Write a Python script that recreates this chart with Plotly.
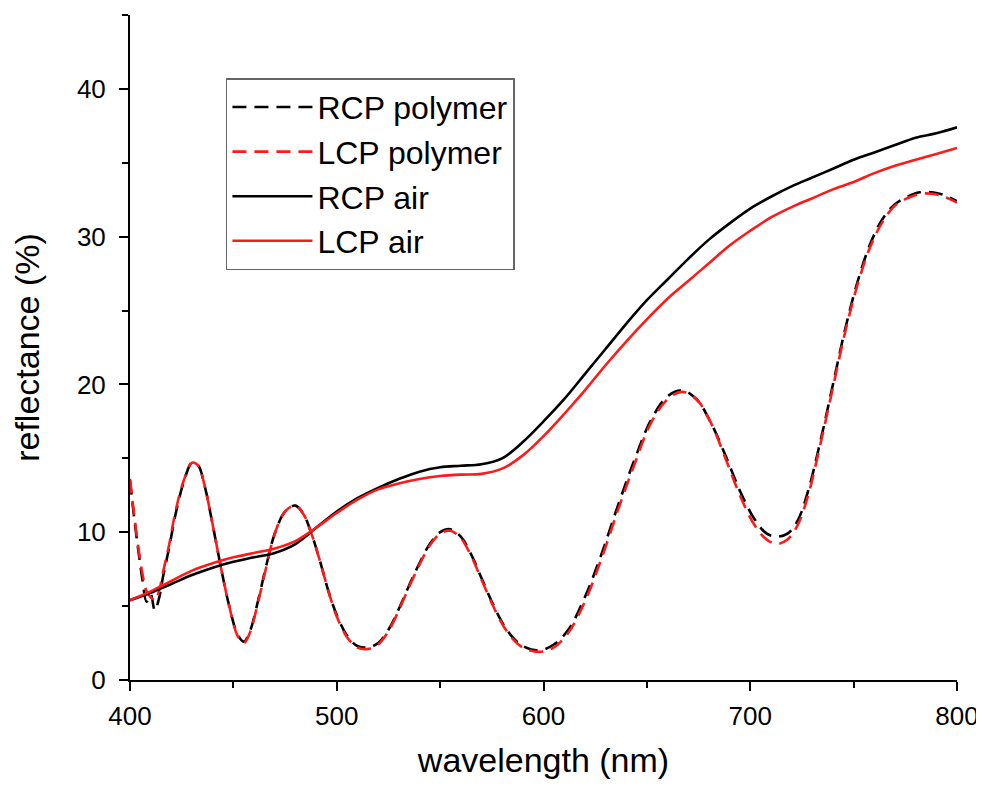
import plotly.graph_objects as go

# polymer (dashed) curves
wl_poly = [400, 402, 404, 406, 408, 410, 412, 414, 416, 419, 422, 426, 430, 433, 436, 440, 444, 448, 452, 455,
           458, 462, 466, 470, 475, 480, 484, 488, 492, 496, 500, 505, 510, 515, 520, 525, 530, 535, 540, 545,
           550, 555, 560, 565, 570, 575, 580, 585, 590, 598, 605, 612, 620, 628, 636, 644, 652, 660, 667, 674,
           681, 688, 695, 702, 708, 713, 718, 723, 728, 734, 740, 746, 752, 758, 764, 770, 776, 782, 788, 794, 800]
rcp_poly = [13.5, 11.0, 8.8, 6.8, 5.3, 5.8, 4.7, 5.5, 7.0, 9.0, 11.2, 13.4, 14.7, 14.5, 13.2, 10.5, 7.6, 5.0, 3.1, 2.6,
            3.3, 5.4, 7.8, 9.9, 11.4, 11.8, 11.2, 9.8, 8.0, 6.0, 4.4, 3.0, 2.3, 2.2, 2.5, 3.4, 4.8, 6.4, 7.9, 9.2,
            10.0, 10.2, 9.7, 8.5, 6.9, 5.3, 3.9, 2.9, 2.3, 2.0, 2.4, 3.4, 5.6, 8.5, 11.8, 14.9, 17.6, 19.2, 19.6, 19.0,
            17.4, 15.2, 12.8, 10.9, 9.9, 9.7, 9.9, 10.8, 12.8, 16.2, 20.0, 23.8, 27.0, 29.5, 31.2, 32.2, 32.7, 33.0, 33.0, 32.8, 32.4]
lcp_poly = [13.6, 11.2, 9.0, 7.2, 6.0, 5.6, 5.4, 6.0, 7.3, 9.2, 11.4, 13.5, 14.7, 14.5, 13.2, 10.5, 7.6, 5.0, 3.0, 2.5,
            3.2, 5.3, 7.7, 9.9, 11.4, 11.8, 11.2, 9.8, 8.0, 6.0, 4.3, 2.9, 2.2, 2.1, 2.4, 3.3, 4.7, 6.3, 7.8, 9.1,
            9.9, 10.1, 9.6, 8.4, 6.8, 5.2, 3.8, 2.8, 2.2, 1.9, 2.2, 3.2, 5.3, 8.2, 11.5, 14.6, 17.4, 19.0, 19.5, 19.0,
            17.4, 15.0, 12.5, 10.5, 9.5, 9.2, 9.5, 10.5, 12.5, 16.0, 19.8, 23.6, 26.8, 29.3, 31.0, 32.1, 32.6, 32.9, 32.9, 32.7, 32.3]

# air (solid) curves
wl_air = [400, 410, 420, 430, 440, 450, 460, 470, 480, 490, 500, 510, 520, 530, 540, 550, 560, 570, 580, 590,
          600, 610, 620, 630, 640, 650, 660, 670, 680, 690, 700, 710, 720, 730, 740, 750, 760, 770, 780, 790, 800]
rcp_air = [5.4, 5.9, 6.5, 7.1, 7.6, 8.0, 8.3, 8.6, 9.2, 10.3, 11.4, 12.3, 13.0, 13.6, 14.1, 14.4, 14.5, 14.6, 15.0, 16.1,
           17.5, 19.0, 20.7, 22.4, 24.1, 25.7, 27.1, 28.5, 29.8, 30.9, 31.9, 32.7, 33.4, 34.0, 34.6, 35.2, 35.7, 36.2, 36.7, 37.0, 37.4]
lcp_air = [5.4, 6.0, 6.7, 7.4, 7.9, 8.3, 8.6, 8.9, 9.4, 10.3, 11.3, 12.2, 12.9, 13.3, 13.6, 13.8, 13.9, 13.95, 14.3, 15.2,
           16.5, 18.0, 19.6, 21.3, 22.9, 24.4, 25.8, 27.0, 28.2, 29.4, 30.4, 31.3, 32.0, 32.6, 33.2, 33.7, 34.3, 34.8, 35.2, 35.6, 36.0]

x_ticks = [400, 500, 600, 700, 800]
y_ticks = [0, 10, 20, 30, 40]

FONT = "Liberation Sans, Arial, sans-serif"
DASH = "14px,8px"
RED = "#ff1a1a"

fig = go.Figure()
fig.add_trace(go.Scatter(x=wl_poly, y=rcp_poly, mode="lines", name="RCP polymer",
                         line=dict(color="black", width=2.6, dash=DASH, shape="spline")))
fig.add_trace(go.Scatter(x=wl_poly, y=lcp_poly, mode="lines", name="LCP polymer",
                         line=dict(color=RED, width=2.6, dash=DASH, shape="spline")))
fig.add_trace(go.Scatter(x=wl_air, y=rcp_air, mode="lines", name="RCP air",
                         line=dict(color="black", width=2.6, shape="spline")))
fig.add_trace(go.Scatter(x=wl_air, y=lcp_air, mode="lines", name="LCP air",
                         line=dict(color=RED, width=2.6, shape="spline")))

fig.update_layout(
    width=984, height=789,
    margin=dict(l=122, r=35, t=7, b=117),
    paper_bgcolor="white", plot_bgcolor="white",
    font=dict(family=FONT, color="black"),
    legend=dict(x=0.116, y=0.905, xanchor="left", yanchor="top",
                bordercolor="#666666", borderwidth=1.5, bgcolor="white",
                font=dict(size=32, family=FONT), itemwidth=80,
                tracegroupgap=0),
    showlegend=True,
)
fig.update_xaxes(range=[400, 800], tickvals=x_ticks, ticktext=[str(v) for v in x_ticks],
                 ticks="outside", ticklen=9, tickwidth=2, tickcolor="black",
                 minor=dict(tickvals=[450, 550, 650, 750], ticks="outside", ticklen=6, tickwidth=2, tickcolor="black"),
                 showline=True, linecolor="black", linewidth=2, showgrid=False, zeroline=False,
                 automargin=False, ticklabelstandoff=3,
                 tickfont=dict(size=26, family=FONT),
                 title=dict(text="wavelength (nm)", font=dict(size=34, family=FONT), standoff=18))
fig.update_yaxes(range=[0, 45], tickvals=y_ticks, ticktext=[str(v) for v in y_ticks],
                 ticks="outside", ticklen=9, tickwidth=2, tickcolor="black",
                 minor=dict(tickvals=[5, 15, 25, 35, 45], ticks="outside", ticklen=6, tickwidth=2, tickcolor="black"),
                 showline=True, linecolor="black", linewidth=2, showgrid=False, zeroline=False,
                 automargin=False, ticklabelstandoff=8,
                 tickfont=dict(size=26, family=FONT),
                 title=dict(text="reflectance (%)", font=dict(size=34, family=FONT), standoff=34))

fig.write_html("out.html")
